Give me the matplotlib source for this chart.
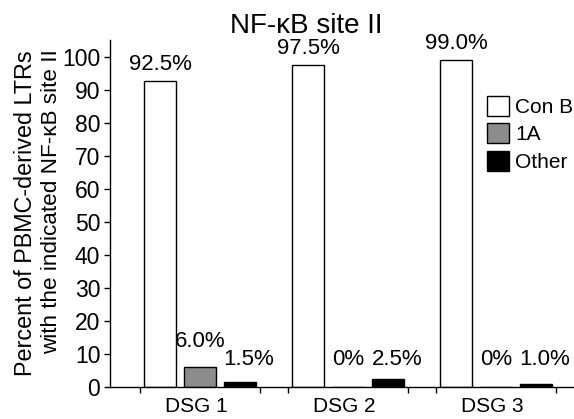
import numpy as np
import matplotlib
matplotlib.use("Agg")
import matplotlib.pyplot as plt

plt.rcParams['font.family'] = ['Liberation Sans', 'DejaVu Sans']

groups = ["DSG 1", "DSG 2", "DSG 3"]
series = ["Con B", "1A", "Other"]
con_b = [92.5, 97.5, 99.0]
one_a = [6.0, 0.0, 0.0]
other = [1.5, 2.5, 1.0]
labels_con_b = ["92.5%", "97.5%", "99.0%"]
labels_one_a = ["6.0%", "0%", "0%"]
labels_other = ["1.5%", "2.5%", "1.0%"]
colors = ["white", "#8c8c8c", "black"]

W, H = 574, 419
fig = plt.figure(figsize=(W / 100, H / 100), dpi=100)
ax = fig.add_axes([110 / W, 1 - 387 / H, 1 - 110 / W, (387 - 40) / H])

spacing = 3.7
centers = np.arange(len(groups)) * spacing
offsets = [-1, 0, 1]
label_dx = [0.0, 0.0, 0.22]
all_vals = [con_b, one_a, other]
all_labels = [labels_con_b, labels_one_a, labels_other]


def label_y(v):
    if v < 5:
        return 5.0
    if v < 50:
        return v + 4.6
    return v + 1.8


for k, (vals, labs, col, name) in enumerate(zip(all_vals, all_labels, colors, series)):
    xs = centers + offsets[k]
    ax.bar(xs, vals, width=0.8, color=col, edgecolor="black", linewidth=1.0, label=name)
    for x, v, t in zip(xs, vals, labs):
        ax.text(x + label_dx[k], label_y(v), t, ha="center", va="bottom", fontsize=16)

ax.set_xlim(-2.25, 9.35)
ax.set_ylim(0, 105)
ax.set_yticks(np.arange(0, 101, 10))
ax.tick_params(axis='y', labelsize=16.5, direction='out', length=4, width=1, pad=3)

# group boundary ticks on x axis
edges = np.sort(np.concatenate([centers - 1.5, centers + 1.5]))
ax.set_xticks(edges)
ax.set_xticklabels([])
ax.tick_params(axis='x', direction='out', length=4, width=1)
for c, g in zip(centers, groups):
    ax.text(c - 0.1, -5.8, g, ha="center", va="center", fontsize=15)

ax.spines['top'].set_visible(False)
ax.spines['right'].set_visible(False)
ax.spines['left'].set_linewidth(1.0)
ax.spines['bottom'].set_linewidth(1.0)

fig.text(306 / W, 1 - 26 / H, "NF-κB site II", ha="center", va="center", fontsize=20)
fig.text(26 / W, 1 - 213 / H, "Percent of PBMC-derived LTRs", rotation=90,
         ha="center", va="center", fontsize=16.8)
fig.text(52 / W, 1 - 202 / H, "with the indicated NF-κB site II", rotation=90,
         ha="center", va="center", fontsize=16.2)

leg = ax.legend(loc="upper left", bbox_to_anchor=(487 / W, 1 - 96 / H),
                bbox_transform=fig.transFigure, frameon=False, fontsize=15,
                handlelength=1.05, handleheight=1.1, labelspacing=0.3,
                handletextpad=0.3, borderpad=0, borderaxespad=0)

fig.savefig("out.png", dpi=100)
